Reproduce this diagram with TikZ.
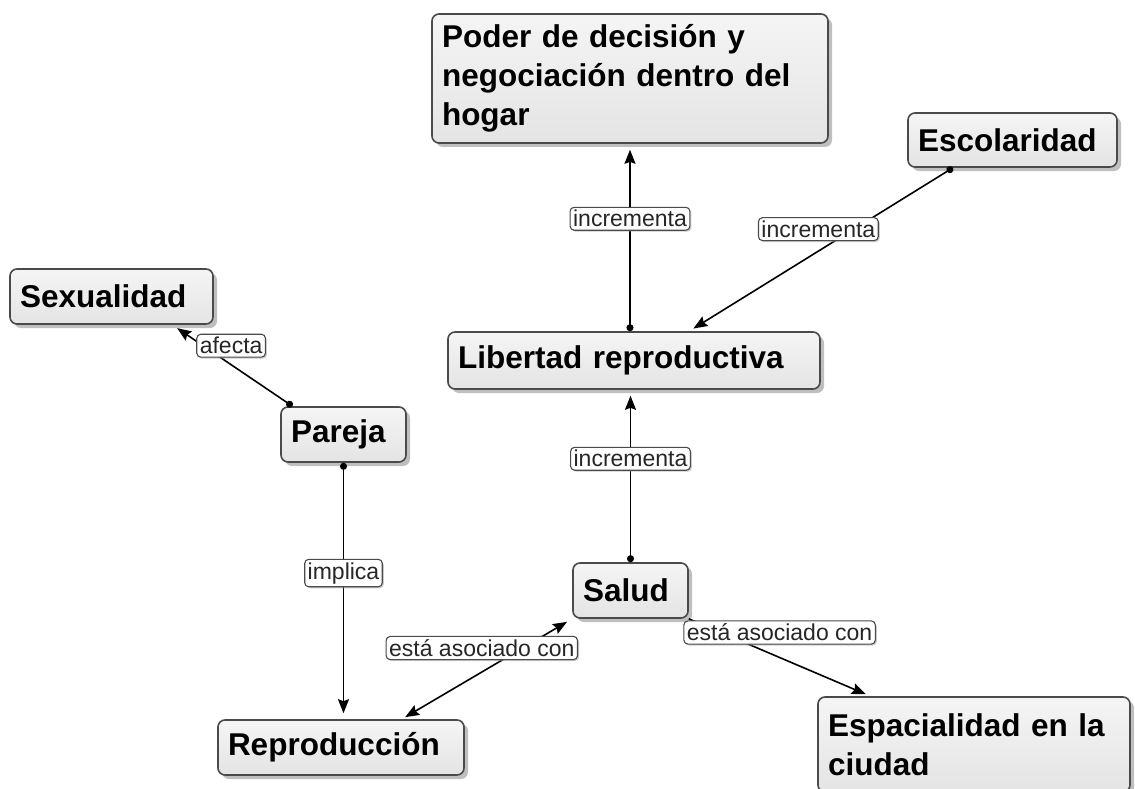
\documentclass[tikz,border=0pt]{standalone}
\usepackage{fontspec}
\setmainfont{Liberation Sans}
\usetikzlibrary{shapes.misc, positioning}
\usetikzlibrary{arrows.meta, shadows}
\definecolor{conceptfill}{HTML}{e4e4e4}
\definecolor{conceptline}{HTML}{4a4a4a}
\tikzstyle{concept} = [rectangle, rounded corners=7pt, draw=conceptline, line width=1.6pt, top color=white!96!black, bottom color=conceptfill, inner xsep=10pt, align=left, font=\fontsize{31.5pt}{39pt}\selectfont\bfseries, drop shadow={shadow xshift=4pt, shadow yshift=-4pt, fill=black!50, opacity=0.5}]
\tikzstyle{linklabel} = [rectangle, rounded corners=4pt, draw=conceptline, line width=1.1pt, fill=white, inner xsep=3pt, inner ysep=3pt, text=black!85, font=\fontsize{23pt}{27pt}\selectfont, drop shadow={shadow xshift=1.5pt, shadow yshift=-1.5pt, fill=black!40, opacity=0.5}]
\tikzstyle{arrow} = [line width=1.6pt, ->, >={Stealth[length=14pt, width=11pt, inset=2pt]}, shorten >=6pt]
\tikzstyle{dotarrow} = [arrow, {Circle[length=7pt]}->]

\begin{document}
\begin{tikzpicture}[x=1pt, y=-1pt]
    \clip (0,0) rectangle (1135,789);
    \fill[white] (0,0) rectangle (1135,789);

    \node (poder) [concept, text width=376pt, minimum height=129pt] at (630,78.5) {Poder de decisión y\\negociación dentro del\\hogar};
    \node (escolaridad) [concept, text width=189pt, minimum height=54pt] at (1012.5,140) {Escolaridad};
    \node (sexualidad) [concept, text width=183pt, minimum height=55pt] at (111.5,296.5) {Sexualidad};
    \node (libertad) [concept, text width=352pt, minimum height=57pt] at (634,360.5) {Libertad reproductiva};
    \node (pareja) [concept, text width=105pt, minimum height=55pt] at (343.5,434.5) {Pareja};
    \node (salud) [concept, text width=95pt, minimum height=55pt] at (630.5,590.5) {Salud};
    \node (reproduccion) [concept, text width=226pt, minimum height=55pt] at (341,747.5) {Reproducción};
    \node (espacialidad) [concept, text width=292pt, minimum height=95pt] at (974,744.5) {Espacialidad en la\\ciudad};

    \draw[dotarrow] (libertad.north -| poder.south)--(poder.south) node[linklabel, pos=0.6] {incrementa};
    \draw[dotarrow, shorten >=5pt] (escolaridad.205)--(libertad.28) node[linklabel, pos=0.51, yshift=22pt] {incrementa};
    \draw[dotarrow] (salud.north)--(salud.north |- libertad.south) node[linklabel, pos=0.6] {incrementa};
    \draw[dotarrow] (pareja.151)--(sexualidad.335) node[linklabel, pos=0.51, yshift=19pt] {afecta};
    \draw[dotarrow] (pareja.south)--(pareja.south |- reproduccion.north) node[linklabel, pos=0.43] {implica};
    \draw[arrow, <->, shorten <=6pt, shorten >=4pt] (salud.south west)--(reproduccion.25) node[linklabel, pos=0.53, yshift=24pt] {está asociado con};
    \draw[arrow, shorten >=5pt] (salud.south east)--(espacialidad.155.5) node[linklabel, pos=0.5, yshift=25pt] {está asociado con};
%    \draw (salud.east)--(espacialidad.north);

\end{tikzpicture}
\end{document}
